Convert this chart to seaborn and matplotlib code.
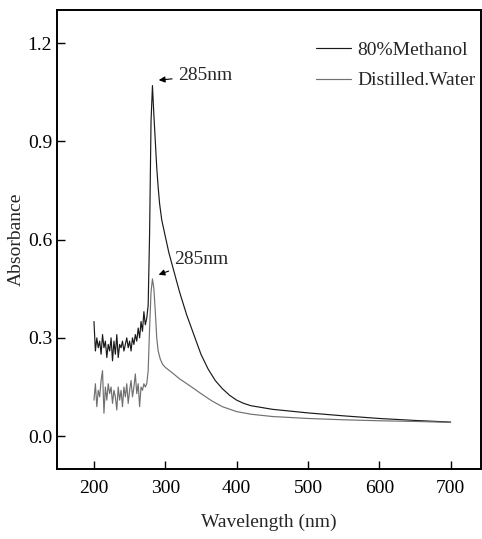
import numpy as np
import pandas as pd
import matplotlib
matplotlib.use("Agg")
import matplotlib.pyplot as plt
import seaborn as sns

# wavelength grids (nm)
noise_wl = list(range(200, 276, 2))
methanol_noise = [0.35, 0.26, 0.30, 0.27, 0.29, 0.25, 0.31, 0.27, 0.29, 0.24,
                  0.28, 0.26, 0.30, 0.23, 0.29, 0.25, 0.31, 0.24, 0.28, 0.27,
                  0.29, 0.26, 0.28, 0.30, 0.27, 0.29, 0.26, 0.30, 0.28, 0.31,
                  0.29, 0.33, 0.30, 0.35, 0.32, 0.38, 0.34, 0.36]
water_noise = [0.11, 0.16, 0.09, 0.14, 0.12, 0.17, 0.20, 0.07, 0.15, 0.11,
               0.16, 0.13, 0.15, 0.10, 0.14, 0.12, 0.08, 0.15, 0.11, 0.14,
               0.09, 0.15, 0.12, 0.16, 0.10, 0.14, 0.17, 0.12, 0.15, 0.19,
               0.13, 0.16, 0.09, 0.15, 0.14, 0.16, 0.15, 0.16]

methanol_wl = [276, 278, 280, 282, 284, 286, 288, 290, 292, 295, 300, 305, 310,
               320, 330, 340, 350, 360, 370, 380, 390, 400, 410, 420, 450, 500,
               550, 600, 650, 700]
methanol_abs = [0.40, 0.62, 0.96, 1.07, 0.98, 0.90, 0.82, 0.76, 0.71, 0.66,
                0.61, 0.56, 0.52, 0.44, 0.37, 0.31, 0.25, 0.205, 0.17, 0.145,
                0.125, 0.110, 0.100, 0.093, 0.082, 0.071, 0.062, 0.054, 0.048,
                0.043]

water_wl = [276, 278, 280, 282, 284, 286, 288, 290, 293, 296, 300, 310, 320,
            335, 350, 365, 380, 400, 420, 450, 500, 550, 600, 650, 700]
water_abs = [0.20, 0.33, 0.44, 0.48, 0.45, 0.38, 0.30, 0.26, 0.235, 0.22, 0.21,
             0.193, 0.175, 0.153, 0.13, 0.108, 0.09, 0.075, 0.067, 0.060, 0.054,
             0.050, 0.047, 0.045, 0.042]

methanol = pd.DataFrame({"wl": noise_wl + methanol_wl,
                         "abs": methanol_noise + methanol_abs})
water = pd.DataFrame({"wl": noise_wl + water_wl,
                      "abs": water_noise + water_abs})

sns.set_theme(style="ticks")
plt.rcParams["font.family"] = ["Liberation Serif", "DejaVu Serif"]

fig = plt.figure(figsize=(4.82, 5.39), dpi=100)
ax = fig.add_axes([0.118, 0.13, 0.879, 0.851])

sns.lineplot(data=methanol, x="wl", y="abs", ax=ax, color="#1a1a1a",
             linewidth=0.85, label="80%Methanol")
sns.lineplot(data=water, x="wl", y="abs", ax=ax, color="#707070",
             linewidth=0.85, label="Distilled.Water")

ax.set_xlim(148, 742)
ax.set_ylim(-0.1, 1.3)
ax.set_xticks([200, 300, 400, 500, 600, 700])
ax.set_yticks([0.0, 0.3, 0.6, 0.9, 1.2])
ax.set_yticklabels(["0.0", "0.3", "0.6", "0.9", "1.2"])
ax.tick_params(direction="in", length=6, width=1, labelsize=14, colors="black")
ax.tick_params(axis="x", pad=8)
for s in ax.spines.values():
    s.set_linewidth(1.4)
    s.set_color("black")

ax.set_xlabel("Wavelength (nm)", fontsize=14, labelpad=12)
ax.set_ylabel("Absorbance", fontsize=14, labelpad=2)

ax.annotate("285nm", xy=(287, 1.086), xytext=(318, 1.10), fontsize=14,
            va="center",
            arrowprops=dict(arrowstyle="-|>", color="black", lw=0.8,
                            mutation_scale=9))
ax.annotate("285nm", xy=(287, 0.49), xytext=(313, 0.54), fontsize=14,
            va="center",
            arrowprops=dict(arrowstyle="-|>", color="black", lw=0.8,
                            mutation_scale=9))

leg = ax.legend(loc="upper right", bbox_to_anchor=(1.03, 0.97), frameon=False,
                fontsize=14, handlelength=1.8, handletextpad=0.35,
                labelspacing=0.65)

fig.savefig("out.png", dpi=100)
